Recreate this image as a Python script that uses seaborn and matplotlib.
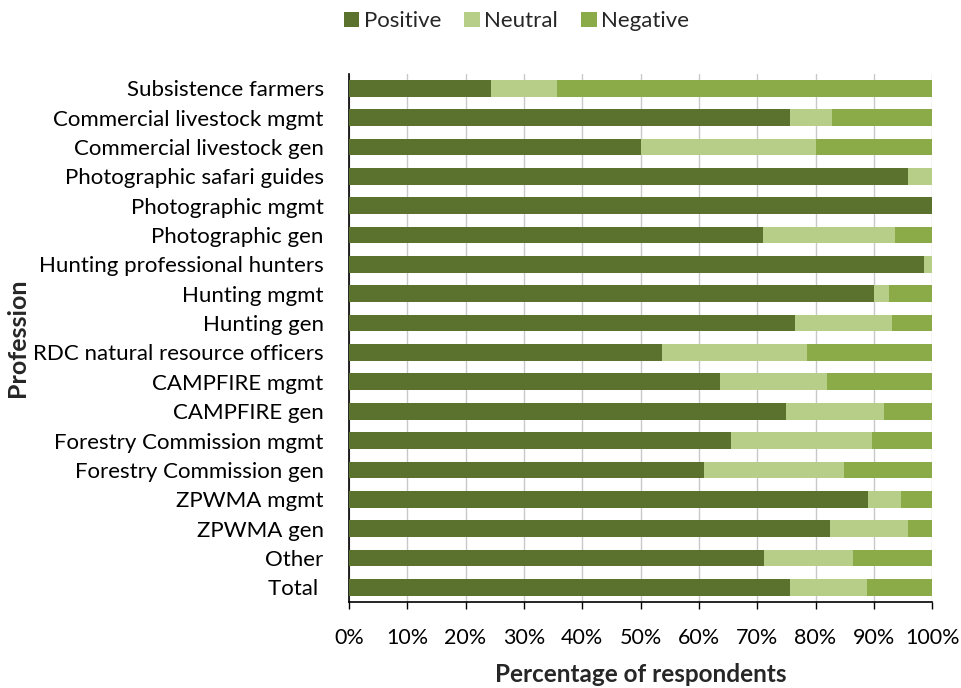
import matplotlib
matplotlib.use("Agg")
import matplotlib.pyplot as plt
from matplotlib.patches import Patch
from matplotlib.ticker import MultipleLocator, PercentFormatter
import seaborn as sns
import pandas as pd

professions = [
    "Subsistence farmers ", "Commercial livestock mgmt ", "Commercial livestock gen ",
    "Photographic safari guides ", "Photographic mgmt ", "Photographic gen ",
    "Hunting professional hunters ", "Hunting mgmt ", "Hunting gen ",
    "RDC natural resource officers ", "CAMPFIRE mgmt ", "CAMPFIRE gen ",
    "Forestry Commission mgmt ", "Forestry Commission gen ", "ZPWMA mgmt ",
    "ZPWMA gen ", "Other ", "Total  ",
]
positive = [24.4, 75.6, 50.0, 95.8, 100.0, 71.0, 98.6, 90.0, 76.4,
            53.6, 63.6, 75.0, 65.5, 60.9, 89.0, 82.5, 71.1, 75.6]
neutral = [11.2, 7.3, 30.0, 4.2, 0.0, 22.6, 1.4, 2.6, 16.7,
           25.0, 18.3, 16.7, 24.1, 23.9, 5.6, 13.4, 15.4, 13.2]
negative = [64.4, 17.1, 20.0, 0.0, 0.0, 6.4, 0.0, 7.4, 6.9,
            21.4, 18.1, 8.3, 10.4, 15.2, 5.4, 4.1, 13.5, 11.2]

colors = {"Positive": "#5B712E", "Neutral": "#B7CE89", "Negative": "#8AAB47"}

df = pd.DataFrame({"Profession": professions, "Positive": positive,
                   "Neutral": neutral, "Negative": negative})
# cumulative right edges of each stacked segment
df["pos_end"] = df["Positive"]
df["neu_end"] = df["Positive"] + df["Neutral"]
df["neg_end"] = df["neu_end"] + df["Negative"]

sns.set_theme(style="white")
plt.rcParams["font.family"] = ["Lato", "DejaVu Sans"]

fig, ax = plt.subplots(figsize=(9.61, 6.88), dpi=100)
fig.subplots_adjust(left=0.363, right=0.970, top=0.893, bottom=0.125)

for col, name in [("neg_end", "Negative"), ("neu_end", "Neutral"), ("pos_end", "Positive")]:
    sns.barplot(data=df, x=col, y="Profession", orient="h", color=colors[name],
                saturation=1, width=0.57, linewidth=0, ax=ax, zorder=3)

ax.set_xlim(0, 100)
ax.set_ylim(len(professions) - 0.5, -0.5)
ax.xaxis.set_major_locator(MultipleLocator(10))
ax.xaxis.set_major_formatter(PercentFormatter(decimals=0))
ax.grid(axis="x", color="#C8C8C8", linewidth=1, zorder=0)
ax.set_axisbelow(True)

for s in ["top", "right"]:
    ax.spines[s].set_visible(False)
for s in ["left", "bottom"]:
    ax.spines[s].set_color("black")
    ax.spines[s].set_linewidth(1.2)

ax.tick_params(axis="x", bottom=True, direction="out", length=5, width=1,
               color="black", labelsize=15.5, pad=14)
ax.tick_params(axis="y", left=False, labelsize=16, pad=8)
for lbl in ax.get_xticklabels() + ax.get_yticklabels():
    lbl.set_color("black")

ax.set_xlabel("Percentage of respondents", fontsize=17.5, fontweight="bold", va="center")
ax.xaxis.set_label_coords(0.5, -0.137)
ax.set_ylabel("Profession", fontsize=18, fontweight="bold", va="center")
ax.yaxis.set_label_coords(-0.568, 0.5)

handles = [Patch(facecolor=colors[k], edgecolor="none") for k in ["Positive", "Neutral", "Negative"]]
fig.legend(handles, ["Positive", "Neutral", "Negative"], loc="center",
           bbox_to_anchor=(0.5375, 0.969), ncol=3, frameon=False, fontsize=16,
           handlelength=0.7, handleheight=0.7, handletextpad=0.2, columnspacing=1.05)

fig.savefig("out.png", dpi=100)
